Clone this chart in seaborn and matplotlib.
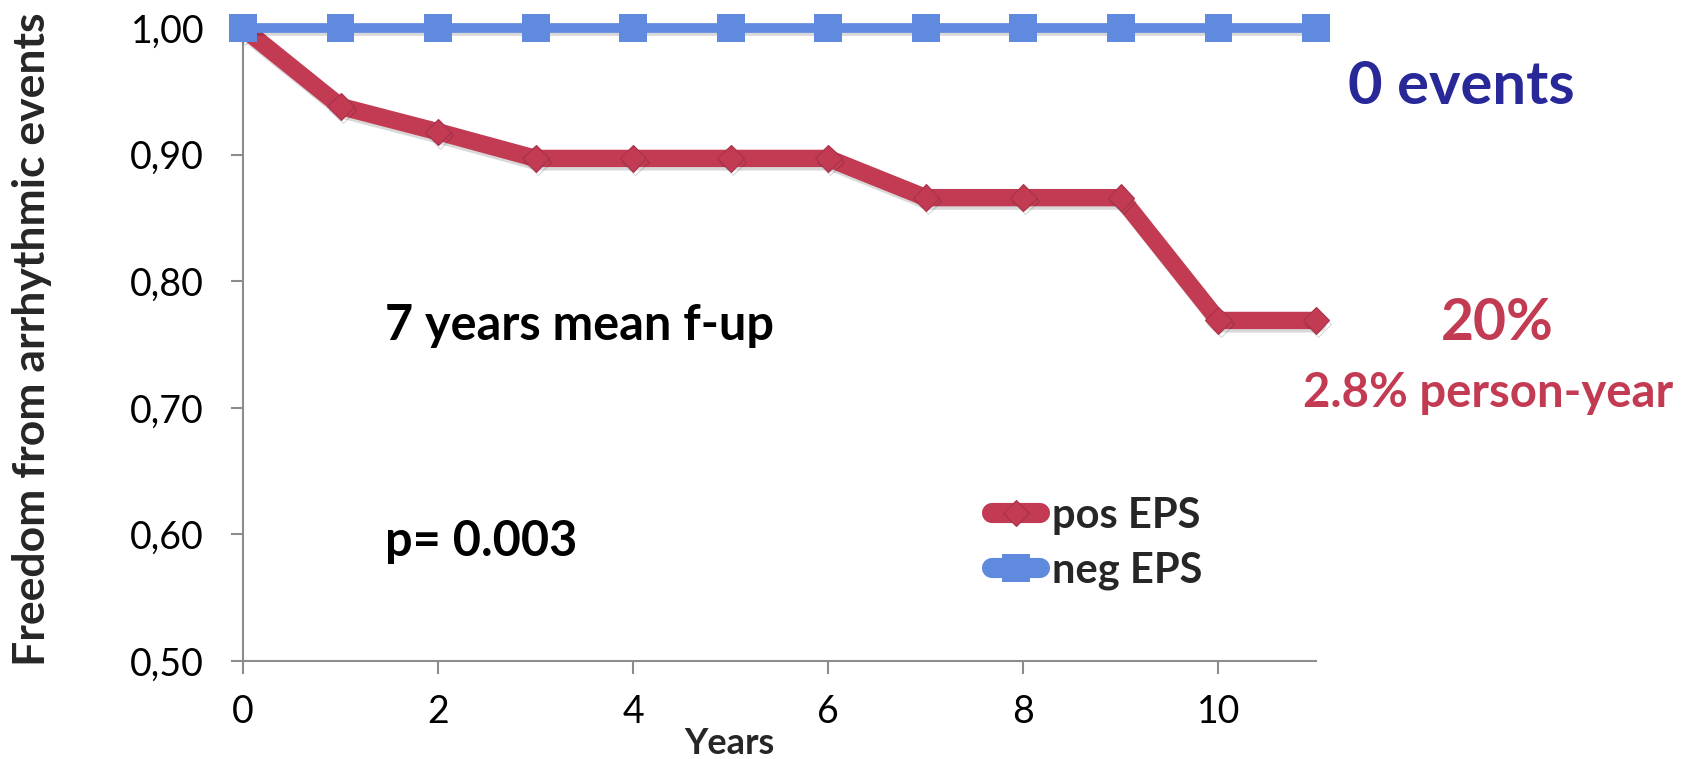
import numpy as np
import pandas as pd
import matplotlib
matplotlib.use("Agg")
import matplotlib.pyplot as plt
import matplotlib.patheffects as pe
from matplotlib.ticker import FuncFormatter
import seaborn as sns

# Follow-up years and event-free survival per group
years = [0, 1, 2, 3, 4, 5, 6, 7, 8, 9, 10, 11]
pos_eps = [1.00, 0.938, 0.918, 0.897, 0.897, 0.897, 0.897, 0.866, 0.866, 0.866, 0.769, 0.769]
neg_eps = [1.00, 1.00, 1.00, 1.00, 1.00, 1.00, 1.00, 1.00, 1.00, 1.00, 1.00, 1.00]
groups = ["pos EPS", "neg EPS"]
x_ticks = [0, 2, 4, 6, 8, 10]
y_ticks = [0.50, 0.60, 0.70, 0.80, 0.90, 1.00]

RED = "#C23B52"
BLUE = "#5F8ADD"
NAVY = "#282899"

sns.set_style("white")
plt.rcParams["font.family"] = ["Lato", "DejaVu Sans"]

df = pd.DataFrame({
    "Years": years * 2,
    "Freedom": pos_eps + neg_eps,
    "Group": [groups[0]] * len(years) + [groups[1]] * len(years),
})

fig = plt.figure(figsize=(17.01, 7.59), dpi=100)
ax = fig.add_axes([243 / 1701, 1 - 661 / 759, (1316 - 243) / 1701, (661 - 28) / 759])

shadow = [pe.SimpleLineShadow(offset=(1.5, -2.5), alpha=0.15, shadow_color="black"), pe.Normal()]

sns.lineplot(data=df[df.Group == groups[0]], x="Years", y="Freedom", ax=ax,
             color=RED, lw=12.5, marker="D", markersize=13.5,
             markerfacecolor=RED, markeredgecolor="#A8324A", markeredgewidth=0.8,
             solid_joinstyle="round", clip_on=False, label=groups[0], zorder=3,
             path_effects=shadow)
sns.lineplot(data=df[df.Group == groups[1]], x="Years", y="Freedom", ax=ax,
             color=BLUE, lw=7, marker="s", markersize=20,
             markerfacecolor=BLUE, markeredgecolor=BLUE, markeredgewidth=0,
             clip_on=False, label=groups[1], zorder=4,
             path_effects=shadow)

ax.set_xlim(0, 11)
ax.set_ylim(0.5, 1.0)
ax.set_xticks(x_ticks)
ax.set_yticks(y_ticks)
ax.yaxis.set_major_formatter(FuncFormatter(lambda v, _: f"{v:.2f}".replace(".", ",")))
ax.set_xlabel("")
ax.set_ylabel("")

for side in ("top", "right"):
    ax.spines[side].set_visible(False)
for side in ("left", "bottom"):
    ax.spines[side].set_color("#8C8C8C")
    ax.spines[side].set_linewidth(1.5)

ax.tick_params(axis="both", which="major", direction="out", length=9, width=1.5,
               color="#8C8C8C", labelsize=27, labelcolor="black")
ax.tick_params(axis="y", pad=19)
ax.tick_params(axis="x", pad=15)
ax.tick_params(axis="both", left=True, bottom=True)

leg = ax.legend(loc="upper left", bbox_to_anchor=(992 / 1701, 1 - 497 / 759),
                bbox_transform=fig.transFigure, frameon=False, handlelength=1.15,
                handletextpad=0.3, labelspacing=0.4, borderpad=0, borderaxespad=0,
                prop={"weight": "bold", "size": 30})
for h in leg.legend_handles:
    h.set_solid_capstyle("round")
    h.set_linewidth(14.5)
    h.set_path_effects([])

fig.text(32 / 1701, 1 - 339 / 759, "Freedom from arrhythmic events", rotation=90,
         ha="center", va="center", fontsize=32, fontweight="bold")
fig.text(729 / 1701, 1 - 743 / 759, "Years", ha="center", va="center",
         fontsize=26, fontweight="bold")

ax.text(1.46, 0.765, "7 years mean f-up", ha="left", va="center",
        fontsize=35, fontweight="bold", color="black")
ax.text(1.46, 0.594, "p= 0.003", ha="left", va="center",
        fontsize=35, fontweight="bold", color="black")

fig.text(1461 / 1701, 1 - 87 / 759, "0 events", ha="center", va="center",
         fontsize=43, fontweight="bold", color=NAVY)
fig.text(1497 / 1701, 1 - 323 / 759, "20%", ha="center", va="center",
         fontsize=41, fontweight="bold", color=RED)
fig.text(1488 / 1701, 1 - 393 / 759, "2.8% person-year", ha="center", va="center",
         fontsize=34, fontweight="bold", color=RED)

fig.savefig("out.png", dpi=100)
